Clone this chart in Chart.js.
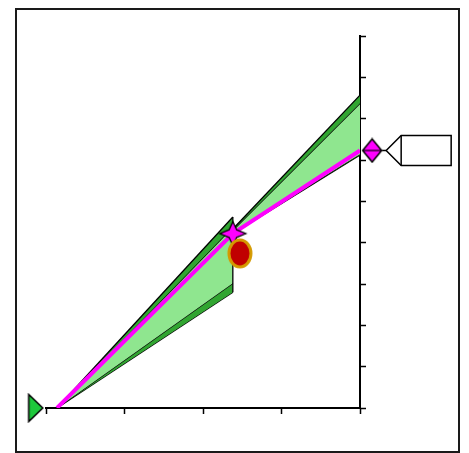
<!DOCTYPE html>
<html>
<head>
<meta charset="utf-8">
<script src="https://cdn.jsdelivr.net/npm/chart.js@4.4.0/dist/chart.umd.min.js"></script>
<style>
  html, body { margin: 0; padding: 0; background: #fff; }
  canvas { display: block; }
</style>
</head>
<body>
<canvas id="fan-chart" width="469" height="453"></canvas>
<script>
// --- data ---
const xTicks = [0, 1, 2, 3, 4];
const yTicks = [0, 1, 2, 3, 4, 5, 6, 7, 8, 9];

// first fan segment
const fanX1 = [0.14, 2.38];
const outerUpper1 = [0, 4.62];
const innerUpper1 = [0, 4.38];
const innerLower1 = [0, 3.02];
const outerLower1 = [0, 2.80];

// second fan segment
const fanX2 = [2.38, 4];
const outerUpper2 = [4.33, 7.57];
const innerUpper2 = [4.30, 7.37];
const innerLower2 = [4.24, 6.14];
const outerLower2 = [4.22, 6.12];

// central projection
const centralX = [0.14, 2.38, 4];
const centralY = [0, 4.22, 6.23];

// markers
const starX = [2.38], starY = [4.22];
const dotX = [2.47], dotY = [3.74];
const startX = [-0.13], startY = [0];
const endX = [4.155], endY = [6.23];

const DARK_GREEN = '#31a531';
const LIGHT_GREEN = '#8fe68f';
const MAGENTA = '#ff00ff';

function pts(xs, ys) {
    return xs.map((x, i) => ({ x: x, y: ys[i] }));
}

function makeCanvas(w, h, draw) {
    const c = document.createElement('canvas');
    c.width = w;
    c.height = h;
    draw(c.getContext('2d'));
    return c;
}

// 4-point star
const starImg = makeCanvas(30, 28, ctx => {
    const cx = 15, cy = 14, rx = 13, ry = 12, r = 3.8;
    ctx.beginPath();
    ctx.moveTo(cx + rx, cy);
    ctx.lineTo(cx + r, cy + r);
    ctx.lineTo(cx, cy + ry);
    ctx.lineTo(cx - r, cy + r);
    ctx.lineTo(cx - rx, cy);
    ctx.lineTo(cx - r, cy - r);
    ctx.lineTo(cx, cy - ry);
    ctx.lineTo(cx + r, cy - r);
    ctx.closePath();
    ctx.fillStyle = MAGENTA;
    ctx.fill();
    ctx.lineWidth = 1.3;
    ctx.strokeStyle = '#000';
    ctx.stroke();
});

// red ellipse with orange rim
const dotImg = makeCanvas(28, 33, ctx => {
    ctx.beginPath();
    ctx.ellipse(14, 16.5, 11, 13.5, 0, 0, Math.PI * 2);
    ctx.fillStyle = '#c00000';
    ctx.fill();
    ctx.lineWidth = 3;
    ctx.strokeStyle = '#d49a00';
    ctx.stroke();
});

// green triangle pointing right
const triImg = makeCanvas(17, 30, ctx => {
    ctx.beginPath();
    ctx.moveTo(1.5, 1.5);
    ctx.lineTo(15.5, 15);
    ctx.lineTo(1.5, 28.5);
    ctx.closePath();
    ctx.fillStyle = '#1ec83c';
    ctx.fill();
    ctx.lineWidth = 1.5;
    ctx.strokeStyle = '#000';
    ctx.stroke();
});

// magenta diamond with a rule through it
const diamondImg = makeCanvas(22, 26, ctx => {
    ctx.beginPath();
    ctx.moveTo(11, 1.5);
    ctx.lineTo(20.5, 13);
    ctx.lineTo(11, 24.5);
    ctx.lineTo(1.5, 13);
    ctx.closePath();
    ctx.fillStyle = MAGENTA;
    ctx.fill();
    ctx.lineWidth = 1.5;
    ctx.strokeStyle = '#000';
    ctx.stroke();
    ctx.beginPath();
    ctx.moveTo(1.5, 13);
    ctx.lineTo(20.5, 13);
    ctx.lineWidth = 1.2;
    ctx.stroke();
});

function boundary(xs, ys, fill, bg) {
    return {
        data: pts(xs, ys),
        borderColor: '#000',
        borderWidth: 1.3,
        backgroundColor: bg || 'transparent',
        fill: fill,
        pointRadius: 0,
        tension: 0,
        order: 3
    };
}

function marker(xs, ys, img) {
    return {
        data: pts(xs, ys),
        showLine: false,
        pointStyle: img,
        pointRadius: 12,
        clip: false,
        order: 0
    };
}

// frame round the whole picture
const framePlugin = {
    id: 'frame',
    afterDraw(chart) {
        const ctx = chart.ctx;
        ctx.save();
        ctx.lineWidth = 2;
        ctx.strokeStyle = '#1a1a1a';
        ctx.strokeRect(16, 9, 443, 443);
        ctx.restore();
    }
};

// empty callout box pointing at the end diamond
const calloutPlugin = {
    id: 'callout',
    afterDatasetsDraw(chart) {
        const meta = chart.getDatasetMeta(chart.data.datasets.length - 1);
        const p = meta.data[0];
        if (!p) return;
        const cx = p.x, cy = p.y;
        const ctx = chart.ctx;
        const x0 = cx + 29, x1 = cx + 79, y0 = cy - 15, y1 = cy + 15;
        ctx.save();
        ctx.lineWidth = 1.5;
        ctx.strokeStyle = '#000';
        ctx.beginPath();
        ctx.moveTo(cx + 10, cy);
        ctx.lineTo(cx + 14, cy);
        ctx.stroke();
        ctx.beginPath();
        ctx.moveTo(cx + 14, cy);
        ctx.lineTo(x0, y0);
        ctx.lineTo(x1, y0);
        ctx.lineTo(x1, y1);
        ctx.lineTo(x0, y1);
        ctx.closePath();
        ctx.fillStyle = '#fff';
        ctx.fill();
        ctx.stroke();
        ctx.beginPath();
        ctx.moveTo(x0, y0);
        ctx.lineTo(x0, y1);
        ctx.stroke();
        ctx.restore();
    }
};

new Chart(document.getElementById('fan-chart'), {
    type: 'line',
    data: {
        datasets: [
            boundary(fanX1, outerUpper1, '+1', DARK_GREEN),
            boundary(fanX1, innerUpper1, '+1', LIGHT_GREEN),
            boundary(fanX1, innerLower1, '+1', DARK_GREEN),
            boundary(fanX1, outerLower1, false),
            boundary(fanX2, outerUpper2, '+1', DARK_GREEN),
            boundary(fanX2, innerUpper2, '+1', LIGHT_GREEN),
            boundary(fanX2, innerLower2, '+1', DARK_GREEN),
            boundary(fanX2, outerLower2, false),
            // closing edge of the first segment
            Object.assign(boundary([fanX1[1], fanX1[1]], [outerUpper1[1], outerLower1[1]], false), { order: 2 }),
            {
                data: pts(centralX, centralY),
                borderColor: MAGENTA,
                borderWidth: 4,
                fill: false,
                pointRadius: 0,
                tension: 0,
                order: 1
            },
            marker(dotX, dotY, dotImg),
            marker(starX, starY, starImg),
            marker(startX, startY, triImg),
            marker(endX, endY, diamondImg)
        ]
    },
    options: {
        responsive: false,
        animation: false,
        events: [],
        layout: { padding: { left: 46, top: 36, right: 103, bottom: 39 } },
        plugins: {
            legend: { display: false },
            tooltip: { enabled: false }
        },
        scales: {
            x: {
                type: 'linear',
                min: xTicks[0],
                max: xTicks[xTicks.length - 1],
                afterBuildTicks: scale => { scale.ticks = xTicks.map(v => ({ value: v })); },
                ticks: { display: false },
                grid: { drawOnChartArea: false, drawTicks: true, tickLength: 6, color: '#000', tickWidth: 1.5 },
                border: { color: '#000', width: 2 }
            },
            y: {
                type: 'linear',
                position: 'right',
                min: yTicks[0],
                max: yTicks[yTicks.length - 1],
                afterBuildTicks: scale => { scale.ticks = yTicks.map(v => ({ value: v })); },
                ticks: { display: false },
                grid: { drawOnChartArea: false, drawTicks: true, tickLength: 6, color: '#000', tickWidth: 1.5 },
                border: { color: '#000', width: 2 }
            }
        }
    },
    plugins: [framePlugin, calloutPlugin]
});
</script>
</body>
</html>
